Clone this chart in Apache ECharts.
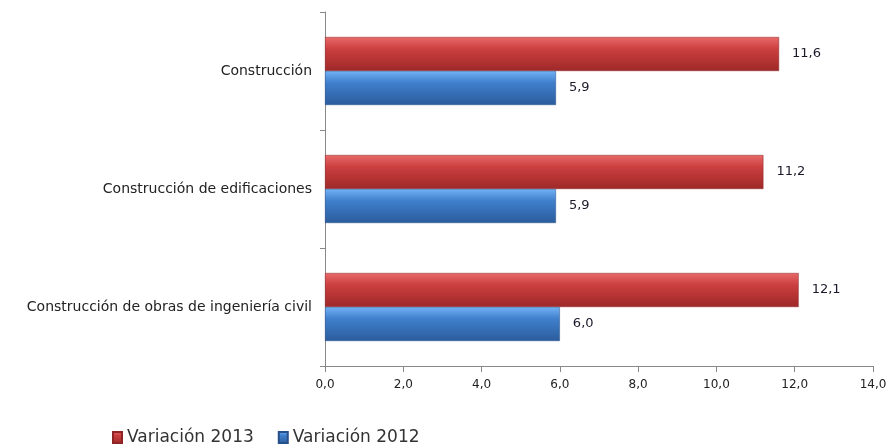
<!DOCTYPE html>
<html><head><meta charset="utf-8">
<script src="https://cdn.jsdelivr.net/npm/echarts@6/dist/echarts.min.js"></script>
<style>html,body{margin:0;padding:0;background:#fff}#c{width:892px;height:444px}</style>
</head><body><div id="c"></div>
<script>
var categories = ['Construcción', 'Construcción de edificaciones', 'Construcción de obras de ingeniería civil'];
var var2013 = [11.6, 11.2, 12.1];
var var2012 = [5.9, 5.9, 6.0];
var xTicks = [0, 2, 4, 6, 8, 10, 12, 14];

var fmt = function (v) { return v.toFixed(1).replace('.', ','); };
var font = 'DejaVu Sans';
function grad(a, b, c) {
  return new echarts.graphic.LinearGradient(0, 0, 0, 1, [
    {offset: 0, color: a}, {offset: 0.35, color: b}, {offset: 1, color: c}
  ]);
}
var chart = echarts.init(document.getElementById('c'));
chart.setOption({
  animation: false,
  grid: {left: 325, right: 19, top: 12, bottom: 78},
  legend: {
    left: 107, top: 424, itemWidth: 9, itemHeight: 11, itemGap: 24,
    icon: 'rect',
    textStyle: {fontFamily: font, fontSize: 17, color: '#333'},
    data: ['Variación 2013', 'Variación 2012']
  },
  xAxis: {
    type: 'value', min: xTicks[0], max: xTicks[xTicks.length - 1], interval: 2,
    axisLine: {show: true, lineStyle: {color: '#888'}},
    axisTick: {show: true, length: 6, lineStyle: {color: '#888'}},
    splitLine: {show: false},
    axisLabel: {formatter: fmt, fontFamily: font, fontSize: 12, color: '#222', margin: 13}
  },
  yAxis: {
    type: 'category', data: categories, inverse: true,
    axisLine: {show: true, lineStyle: {color: '#888'}},
    axisTick: {show: true, length: 5, lineStyle: {color: '#888'}},
    axisLabel: {fontFamily: font, fontSize: 14, color: '#222', margin: 13}
  },
  series: [
    {
      name: 'Variación 2013', type: 'bar', data: var2013, barWidth: 34, barGap: '0%',
      itemStyle: {color: grad('#e86a6a', '#cc3f3f', '#9e2828'), borderColor: '#8e2424', borderWidth: 0.5},
      label: {show: true, position: 'right', distance: 13, formatter: function (p) { return fmt(p.value); },
        fontFamily: font, fontSize: 13, color: '#1a1a2a'}
    },
    {
      name: 'Variación 2012', type: 'bar', data: var2012, barWidth: 34,
      itemStyle: {color: grad('#72b2f5', '#3f7fcc', '#2b5c9c'), borderColor: '#27508a', borderWidth: 0.5},
      label: {show: true, position: 'right', distance: 13, formatter: function (p) { return fmt(p.value); },
        fontFamily: font, fontSize: 13, color: '#1a1a2a'}
    }
  ]
});
</script></body></html>
